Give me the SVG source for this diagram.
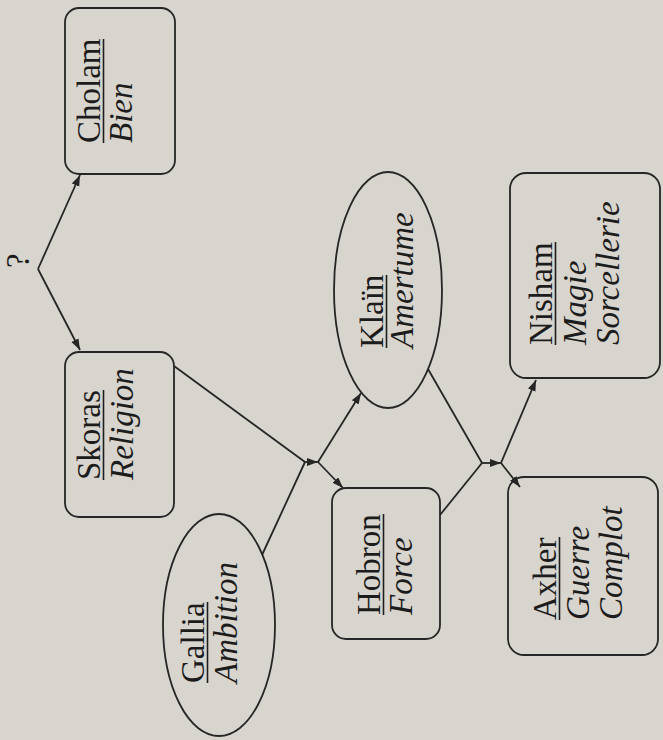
<svg xmlns="http://www.w3.org/2000/svg" width="663" height="740" viewBox="0 0 663 740">
  <style>
    .bg { fill: #d8d5ce; }
    .shape { fill: none; stroke: #262626; stroke-width: 1.8; }
    .edge { fill: none; stroke: #262626; stroke-width: 1.8; }
    .ul { stroke: #1e1e1e; stroke-width: 1.6; }
    .name { font-family: "Liberation Serif", "Times New Roman", serif; font-size: 33px; fill: #1c1c1c; }
    .attr { font-family: "Liberation Serif", "Times New Roman", serif; font-size: 33px; font-style: italic; fill: #1c1c1c; }
  </style>
  <defs>
    <marker id="arrow" markerUnits="userSpaceOnUse" markerWidth="12" markerHeight="9" refX="11" refY="4" orient="auto">
      <path d="M0,0 L11,4 L0,8 z" fill="#262626"/>
    </marker>
  </defs>
  <rect class="bg" x="0" y="0" width="663" height="740"/>

  <g id="connectors">
    <path class="edge" d="M38,269 L80,175" marker-end="url(#arrow)"/>
    <path class="edge" d="M38,269 L80,350" marker-end="url(#arrow)"/>
    <path class="edge" d="M174,366 L305,462"/>
    <path class="edge" d="M262,555 L305,462"/>
    <path class="edge" d="M304,462 L318,462" marker-end="url(#arrow)"/>
    <path class="edge" d="M318,462 L361,393" marker-end="url(#arrow)"/>
    <path class="edge" d="M318,462 L343,488" marker-end="url(#arrow)"/>
    <path class="edge" d="M428,369 L482,463"/>
    <path class="edge" d="M440,515 L482,463"/>
    <path class="edge" d="M481,463 L501,463" marker-end="url(#arrow)"/>
    <path class="edge" d="M501,463 L536,380" marker-end="url(#arrow)"/>
    <path class="edge" d="M501,463 L520,487" marker-end="url(#arrow)"/>
    <text class="name" font-size="30" transform="translate(29,268) rotate(-90)" x="0" y="0">?</text>
  </g>

  <g id="cholam">
    <rect class="shape" x="65" y="8" width="110" height="166" rx="14"/>
    <g transform="translate(100,143) rotate(-90)">
      <text class="name" x="0" y="0">Cholam</text>
      <line class="ul" x1="0" y1="3.5" x2="104" y2="3.5"/>
      <text class="attr" x="0" y="32">Bien</text>
    </g>
  </g>

  <g id="skoras">
    <rect class="shape" x="65" y="352" width="109" height="165" rx="14"/>
    <g transform="translate(100,480) rotate(-90)">
      <text class="name" x="0" y="0">Skoras</text>
      <line class="ul" x1="0" y1="3.5" x2="90" y2="3.5"/>
      <text class="attr" x="0" y="33">Religion</text>
    </g>
  </g>

  <g id="gallia">
    <ellipse class="shape" cx="219" cy="625" rx="56" ry="111"/>
    <g transform="translate(204,683) rotate(-90)">
      <text class="name" x="0" y="0">Gallia</text>
      <line class="ul" x1="0" y1="3.5" x2="81" y2="3.5"/>
      <text class="attr" x="0" y="33">Ambition</text>
    </g>
  </g>

  <g id="klain">
    <ellipse class="shape" cx="388" cy="290" rx="54" ry="118"/>
    <g transform="translate(383,348) rotate(-90)">
      <text class="name" x="0" y="0">Klaïn</text>
      <line class="ul" x1="0" y1="3.5" x2="73" y2="3.5"/>
      <text class="attr" x="0" y="30">Amertume</text>
    </g>
  </g>

  <g id="hobron">
    <rect class="shape" x="332" y="488" width="108" height="151" rx="14"/>
    <g transform="translate(380,615) rotate(-90)">
      <text class="name" x="0" y="0">Hobron</text>
      <line class="ul" x1="0" y1="3.5" x2="101" y2="3.5"/>
      <text class="attr" x="0" y="32">Force</text>
    </g>
  </g>

  <g id="nisham">
    <rect class="shape" x="510" y="173" width="150" height="205" rx="16"/>
    <g transform="translate(552,345) rotate(-90)">
      <text class="name" x="0" y="0">Nisham</text>
      <line class="ul" x1="0" y1="3.5" x2="103" y2="3.5"/>
      <text class="attr" x="0" y="34">Magie</text>
      <text class="attr" x="0" y="67">Sorcellerie</text>
    </g>
  </g>

  <g id="axher">
    <rect class="shape" x="508" y="477" width="150" height="178" rx="16"/>
    <g transform="translate(556,620) rotate(-90)">
      <text class="name" x="0" y="0">Axher</text>
      <line class="ul" x1="0" y1="3.5" x2="83" y2="3.5"/>
      <text class="attr" x="0" y="33">Guerre</text>
      <text class="attr" x="0" y="66">Complot</text>
    </g>
  </g>
</svg>
